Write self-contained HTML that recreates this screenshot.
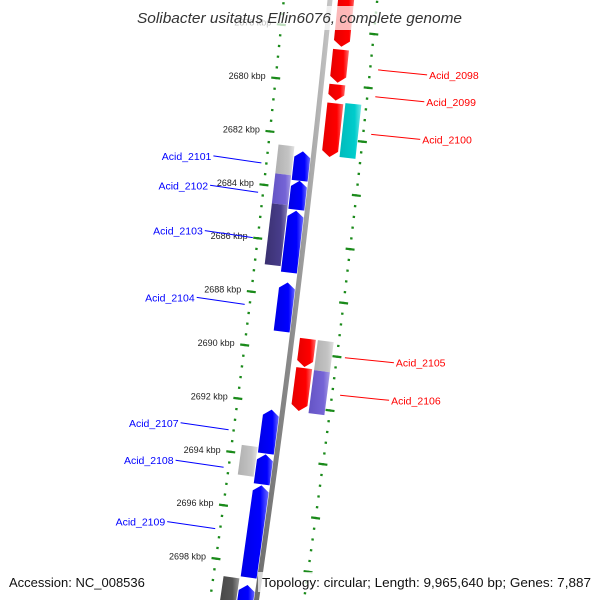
<!DOCTYPE html>
<html><head><meta charset="utf-8"><style>
html,body{margin:0;padding:0;background:#fff;width:600px;height:600px;overflow:hidden;}
svg{display:block;font-family:"Liberation Sans","DejaVu Sans",sans-serif;overflow:hidden;}
</style></head><body>
<svg id="chart" width="600" height="600" viewBox="0 0 600 600" xmlns="http://www.w3.org/2000/svg">
<defs>
<clipPath id="frame"><rect x="0" y="0" width="600" height="600"/></clipPath>
<linearGradient id="gBlue" x1="0" x2="1" y1="0" y2="0"><stop offset="0" stop-color="#0000e6"/><stop offset="0.7" stop-color="#0000ff"/><stop offset="1" stop-color="#6a6aff"/></linearGradient>
<linearGradient id="gRed" x1="0" x2="1" y1="0" y2="0"><stop offset="0" stop-color="#e60000"/><stop offset="0.7" stop-color="#ff0000"/><stop offset="1" stop-color="#ff7070"/></linearGradient>
<linearGradient id="gCyan" x1="0" x2="1" y1="0" y2="0"><stop offset="0" stop-color="#00bbbb"/><stop offset="0.7" stop-color="#00cccc"/><stop offset="1" stop-color="#70e6e6"/></linearGradient>
<linearGradient id="gGray" x1="0" x2="1" y1="0" y2="0"><stop offset="0" stop-color="#b0b0b0"/><stop offset="0.7" stop-color="#c4c4c4"/><stop offset="1" stop-color="#e2e2e2"/></linearGradient>
<linearGradient id="gPurple" x1="0" x2="1" y1="0" y2="0"><stop offset="0" stop-color="#6454c4"/><stop offset="0.7" stop-color="#7564d6"/><stop offset="1" stop-color="#a89ee6"/></linearGradient>
<linearGradient id="gDark" x1="0" x2="1" y1="0" y2="0"><stop offset="0" stop-color="#3a3070"/><stop offset="0.7" stop-color="#483d8b"/><stop offset="1" stop-color="#8a82b8"/></linearGradient>
<linearGradient id="gDGray" x1="0" x2="1" y1="0" y2="0"><stop offset="0" stop-color="#444"/><stop offset="0.7" stop-color="#555"/><stop offset="1" stop-color="#999"/></linearGradient>
<linearGradient id="gBack" x1="0" x2="1" y1="0" y2="0"><stop offset="0" stop-color="#666"/><stop offset="0.5" stop-color="#8a8a8a"/><stop offset="1" stop-color="#c8c8c8"/></linearGradient>
</defs>
<g clip-path="url(#frame)">
<g id="ticks"></g>
<g id="backbone"></g>
<g id="features"></g>
<g id="labels"></g>
</g>
<rect x="133" y="6" width="334" height="24" fill="#fff" fill-opacity="0.72"/>
<text x="137" y="23" textLength="325" lengthAdjust="spacingAndGlyphs" font-size="14.5" font-style="italic" fill="#333">Solibacter usitatus Ellin6076, complete genome</text>
<text x="9" y="587" font-size="13" fill="#111">Accession: NC_008536</text>
<rect x="258" y="572" width="336" height="20" fill="#fff" fill-opacity="0.72"/>
<text x="262" y="587" textLength="329" lengthAdjust="spacingAndGlyphs" font-size="13" fill="#111">Topology: circular; Length: 9,965,640 bp; Genes: 7,887</text>
</svg>
<script>
// ---- data (kbp) ----
const featStart = [2676.4, 2678.7, 2680.0, 2680.7, 2680.65, 2689.48, 2689.48, 2690.57, 2690.6,
                   2682.6, 2682.45, 2683.7, 2683.53, 2684.82, 2684.65, 2687.5, 2692.25, 2693.69, 2693.92, 2695.08, 2698.6, 2698.8];
const featEnd   = [2678.59, 2679.93, 2680.6, 2682.7, 2682.66, 2690.53, 2690.6, 2692.17, 2692.2,
                   2683.7, 2683.53, 2684.78, 2684.65, 2687.13, 2686.93, 2689.33, 2693.89, 2694.8, 2695.04, 2698.52, 2700.5, 2700.5];
const featStrand = [1,1,1,1,0,1,0,1,0, -1,0,-1,0,-1,0,-1,-1,0,-1,-1,0,-1];
const featTrack  = ["ri","ri","ri","ri","ro","ri","ro","ri","ro",
                    "li","lo","li","lo","li","lo","li","li","lo","li","li","lo","li"];
const featFill   = ["gRed","gRed","gRed","gRed","gCyan","gRed","gGray","gRed","gPurple",
                    "gBlue","gGray","gBlue","gPurple","gBlue","gDark","gBlue","gBlue","gGray","gBlue","gBlue","gDGray","gBlue"];
const labelNames = ["Acid_2098","Acid_2099","Acid_2100","Acid_2105","Acid_2106",
                    "Acid_2101","Acid_2102","Acid_2103","Acid_2104","Acid_2107","Acid_2108","Acid_2109"];
const labelKbp   = [2679.3, 2680.3, 2681.7, 2690.0, 2691.4, 2683.2, 2684.3, 2686.0, 2688.5, 2693.2, 2694.6, 2696.9];
const labelSide  = [1,1,1,1,1,-1,-1,-1,-1,-1,-1,-1];
const tickMajor  = [2678,2680,2682,2684,2686,2688,2690,2692,2694,2696,2698,2700];
const tickLabels = ["2678 kbp","2680 kbp","2682 kbp","2684 kbp","2686 kbp","2688 kbp","2690 kbp","2692 kbp","2694 kbp","2696 kbp","2698 kbp","2700 kbp"];
const minorFrom = 2676.4, minorTo = 2701, minorStep = 0.4;

// ---- geometry ----
const NS = "http://www.w3.org/2000/svg";
function yc(k){ return 82.9 + (k-2680)*26.79; }
function cx(y){ return 330 - 0.1*y - 0.0000375*y*y; }
function pt(k, v){
  const y = yc(k), d = -0.1 - 0.000075*y, L = Math.sqrt(1+d*d);
  return [cx(y) + v/L, y + v*(-d)/L];
}
const tracks = {li:[-19,-3], lo:[-36,-20], ri:[8,24], ro:[26,42]};
const VL = -46, VR = 47;
function mk(tag, attrs, parent){
  const e = document.createElementNS(NS, tag);
  for (const a in attrs) e.setAttribute(a, attrs[a]);
  parent.appendChild(e); return e;
}
const gT = document.getElementById('ticks');
const gB = document.getElementById('backbone');
const gF = document.getElementById('features');
const gL = document.getElementById('labels');

let bp = [];
for (let k = 2676; k <= 2701.5; k += 0.25) bp.push(pt(k,0).map(n=>n.toFixed(2)).join(','));
const bb = mk('polyline', {points: bp.join(' '), fill:'none', stroke:'url(#gBack)', 'stroke-width':5}, gB);



for (let k = minorFrom; k <= minorTo; k += minorStep) {
  [VL, VR].forEach(v => {
    const a = pt(k, v-1.2), b = pt(k, v+1.2);
    const t = mk('line', {x1:a[0],y1:a[1],x2:b[0],y2:b[1], stroke:'#1a8a1a','stroke-width':2.2}, gT);
    
    
  });
}
tickMajor.forEach((k,i) => {
  [VL, VR].forEach(v => {
    const a = pt(k, v-4.5), b = pt(k, v+4.5);
    const t = mk('line', {x1:a[0],y1:a[1],x2:b[0],y2:b[1], stroke:'#1a8a1a','stroke-width':2.2}, gT);
    
    
  });
  const p = pt(k, VL);
  const tx = mk('text', {x:(p[0]-10).toFixed(1), y:(p[1]+1).toFixed(1), 'text-anchor':'end', 'font-size':9, fill:'#222'}, gT);
  tx.textContent = tickLabels[i];
  
  
});

const HEAD = 6;
for (let i = 0; i < featStart.length; i++) {
  const s = featStart[i], e = featEnd[i], tr = tracks[featTrack[i]];
  const v1 = tr[0], v2 = tr[1], vm = (v1+v2)/2;
  const hk = HEAD/26.79;
  let pts;
  if (featStrand[i] === 1) {
    pts = [pt(s,v1), pt(s,v2), pt(e-hk,v2), pt(e,vm), pt(e-hk,v1)];
  } else if (featStrand[i] === -1) {
    pts = [pt(s,vm), pt(s+hk,v2), pt(e,v2), pt(e,v1), pt(s+hk,v1)];
  } else {
    pts = [pt(s,v1), pt(s,v2), pt(e,v2), pt(e,v1)];
  }
  const poly = mk('polygon', {points: pts.map(p=>p[0].toFixed(2)+','+p[1].toFixed(2)).join(' '), fill:'url(#'+featFill[i]+')'}, gF);
  
  
}

for (let i = 0; i < labelNames.length; i++) {
  const side = labelSide[i];
  const p = pt(labelKbp[i], side > 0 ? 55 : -51);
  const ex = side > 0 ? p[0] + 49 : p[0] - 48;
  const ey = p[1] + (side > 0 ? 5 : -7);
  const col = side > 0 ? '#ff0000' : '#0000ff';
  const ln = mk('line', {x1:p[0].toFixed(1), y1:p[1].toFixed(1), x2:ex.toFixed(1), y2:ey.toFixed(1), stroke:col, 'stroke-width':1}, gL);
  
  
  const tx = mk('text', {x:(side>0?ex+2:ex-2).toFixed(1), y:(ey+4).toFixed(1), 'text-anchor': side>0?'start':'end', 'font-size':10.5, fill:col}, gL);
  tx.textContent = labelNames[i];
  
  
}
</script>
</body></html>
